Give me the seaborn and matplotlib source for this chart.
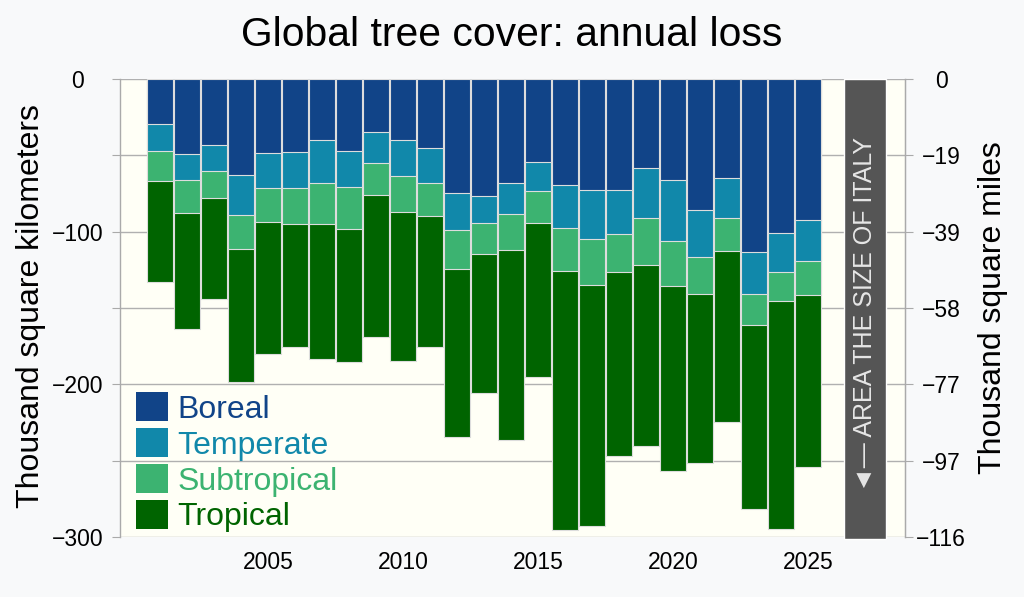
import matplotlib
matplotlib.use("Agg")
import matplotlib.pyplot as plt
import matplotlib.patches as mpatches
import pandas as pd
import seaborn as sns

# Dados: perda anual de cobertura arborea (mil km2) por zona climatica
years = list(range(2001, 2026))
boreal = [29.7, 48.9, 43.4, 62.9, 48.3, 48.0, 40.2, 47.0, 34.5, 40.0, 45.4, 74.5, 76.6,
          67.9, 54.4, 69.4, 72.9, 72.5, 58.5, 66.4, 85.6, 65.1, 113.5, 100.9, 92.6]
temperate = [17.3, 17.5, 16.9, 26.4, 23.1, 23.2, 28.1, 23.9, 20.3, 23.5, 22.7, 24.4, 17.7,
             20.7, 18.7, 28.0, 31.7, 29.0, 32.8, 39.9, 30.8, 25.7, 27.3, 25.5, 26.8]
subtropical = [19.6, 21.1, 17.9, 22.3, 22.1, 23.8, 26.5, 27.6, 21.0, 23.4, 21.6, 25.3, 20.1,
               23.2, 21.2, 28.1, 30.3, 24.9, 30.8, 29.1, 24.6, 21.9, 20.1, 19.2, 21.9]
tropical = [66.2, 76.5, 66.1, 86.9, 86.8, 80.8, 88.6, 86.9, 93.4, 98.0, 85.6, 110.3, 91.5,
            124.4, 101.1, 169.9, 157.9, 120.3, 118.1, 121.6, 110.8, 112.0, 120.5, 149.2, 112.8]

italy_area = 301.3      # mil km2
km2_per_mi2 = 2.58999

zones = ["Boreal", "Temperate", "Subtropical", "Tropical"]
colors = ["#114488", "#1188aa", "#3cb371", "#006400"]

df = pd.DataFrame({"year": years, "Boreal": boreal, "Temperate": temperate,
                   "Subtropical": subtropical, "Tropical": tropical})
# empilhar: soma acumulada, desenhada para baixo
cum = -df[zones].cumsum(axis=1)

sns.set_style("white")
plt.rcParams["font.family"] = ["Liberation Sans", "DejaVu Sans"]
plt.rcParams["text.color"] = "black"
plt.rcParams["xtick.color"] = "black"
plt.rcParams["ytick.color"] = "black"

fig = plt.figure(figsize=(10.24, 5.97), dpi=100, facecolor="#f8f9fa")
ax = fig.add_axes([120 / 1024, 1 - 537 / 597, 785 / 1024, 458 / 597])
ax.set_facecolor("#fffff6")

# desenhar do maior acumulado para o menor
for zone, col in reversed(list(zip(zones, colors))):
    sns.barplot(x=df["year"], y=cum[zone], native_scale=True, color=col, saturation=1,
                width=0.95, edgecolor="#dddddd", linewidth=0.8, errorbar=None, ax=ax)

# barra de referencia: area da Italia
ax.bar(2027.1, -italy_area, width=1.55, color="#555555", zorder=3, clip_on=False)
ax.text(2027.1, -154, "\u25c4\u2014 AREA THE SIZE OF ITALY", rotation=90, ha="center",
        va="center", color="#e6e6e6", fontsize=18, zorder=4)

ax.set_xlim(1999.52, 2028.59)
ax.set_ylim(-300, 0)
yticks = list(range(-300, 1, 50))
ax.set_yticks(yticks)
ax.set_yticklabels([f"\u2212{-v}" if v < 0 and v % 100 == 0 else ("0" if v == 0 else "")
                    for v in yticks], ha="center")
ax.set_xticks([2005, 2010, 2015, 2020, 2025])
ax.set_xticklabels(["2005", "2010", "2015", "2020", "2025"])
ax.tick_params(axis="y", length=6, color="#aaaaaa", labelcolor="black", pad=24.5,
               labelsize=16.5)
ax.tick_params(axis="x", length=0, pad=10, labelsize=16.5, labelcolor="black")
ax.grid(axis="y", color="#b0b0b0", linewidth=1)
ax.set_axisbelow(True)
ax.set_xlabel("")
ax.set_ylabel("")
for side in ["top", "bottom"]:
    ax.spines[side].set_visible(False)
for side in ["left", "right"]:
    ax.spines[side].set_color("#aaaaaa")
    ax.spines[side].set_linewidth(1)

# eixo secundario em milhas quadradas
ax2 = ax.twinx()
ax2.set_ylim(ax.get_ylim())
ax2.set_yticks(yticks)
ax2.set_yticklabels([f"\u2212{round(-v / km2_per_mi2)}" if v < 0 else "0" for v in yticks],
                    ha="center")
ax2.tick_params(axis="y", length=6, color="#aaaaaa", labelcolor="black", pad=20,
                labelsize=16.5)
for side in ["top", "bottom", "left"]:
    ax2.spines[side].set_visible(False)
ax2.spines["right"].set_color("#aaaaaa")

handles = [mpatches.Patch(facecolor=c, edgecolor="none") for c in colors]
leg = ax.legend(handles, zones, loc="lower left", bbox_to_anchor=(0.02, 0.01),
                frameon=False, fontsize=23, handlelength=1.0, handleheight=1.0,
                handletextpad=0.3, labelspacing=0.115, borderpad=0, borderaxespad=0)
for txt, c in zip(leg.get_texts(), colors):
    txt.set_color(c)

fig.text(0.5, 1 - 35 / 597, "Global tree cover: annual loss", ha="center", va="center",
         fontsize=29.4, color="black")
fig.text(31 / 1024, 1 - 306 / 597, "Thousand square kilometers", rotation=90, ha="center",
         va="center", fontsize=23, color="black")
fig.text(993 / 1024, 1 - 308 / 597, "Thousand square miles", rotation=90, ha="center",
         va="center", fontsize=23, color="black")

fig.savefig("out.png", dpi=100, facecolor=fig.get_facecolor())
